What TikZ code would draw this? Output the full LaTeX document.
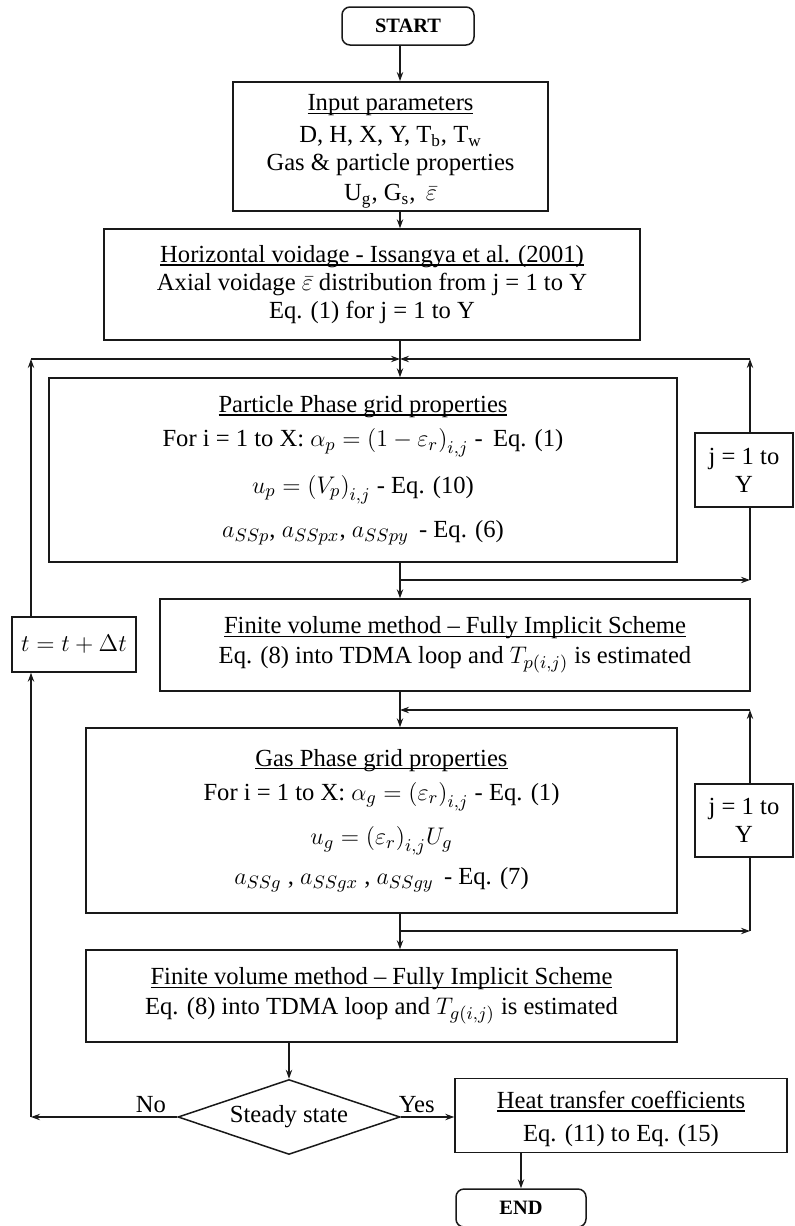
\documentclass[tikz,border=0pt]{standalone}
\usepackage{fontspec}
\setmainfont{Liberation Serif}
\usepackage{xcolor}
\usepackage{tikz}
\usetikzlibrary{shapes.geometric, arrows.meta, positioning, calc}
\definecolor{FlowInk}{RGB}{25, 25, 25}
\newcommand{\headline}[1]{\leavevmode\setbox0\hbox{#1}\rlap{\rule[-1.6pt]{\wd0}{0.65pt}}\box0}
\tikzset{
  procbox/.style={draw=FlowInk, line width=0.75pt, align=center, inner sep=3pt,
    font=\fontsize{12.3}{14}\selectfont},
  termbox/.style={draw=FlowInk, line width=0.75pt, rounded corners=4pt,
    minimum width=66pt, minimum height=19pt, font=\fontsize{10.2}{12}\selectfont\bfseries},
  decbox/.style={diamond, draw=FlowInk, line width=0.75pt, aspect=3, inner sep=1pt,
    minimum width=111pt, minimum height=37.5pt, font=\fontsize{12.3}{14}\selectfont},
  flow/.style={draw=FlowInk, line width=0.6pt, -{Stealth[length=4.5pt, width=3.2pt]}},
  link/.style={draw=FlowInk, line width=0.6pt},
  lbl/.style={font=\fontsize{12.3}{14}\selectfont, inner sep=2pt}
}

\begin{document}
\begin{tikzpicture}[x=0.5pt, y=-0.5pt]
    \useasboundingbox (0,0) rectangle (794,1226);

    \coordinate (spine) at (400,0);
    \coordinate (lcol) at (31,0);
    \coordinate (rcol) at (750,0);
    \coordinate (toprow) at (0,359);
    \coordinate (prow) at (0,580);
    \coordinate (grow) at (0,710);
    \coordinate (gout) at (0,931);

    \node[termbox] (start) at (408,26) {START};
    \node[procbox, inner sep=1.5pt, minimum width=157.5pt, minimum height=64.5pt] (input) at (390.5,146.5) {
      \rule{0pt}{13pt}\headline{Input parameters}\\[2pt]
      D, H, X, Y, T\textsubscript{b}, T\textsubscript{w}\\
      Gas \& particle properties\\[1pt]
      U\textsubscript{g}, G\textsubscript{s}, \,$\bar{\varepsilon}$
    };
    \node[procbox, minimum width=268pt, minimum height=55.5pt] (void) at (372,284.5) {
      \headline{Horizontal voidage - Issangya et al. (2001)}\\
      Axial voidage $\bar{\varepsilon}$ distribution from j = 1 to Y\\
      Eq. (1) for j = 1 to Y
    };
    \node[procbox, minimum width=314pt, minimum height=92pt] (part) at (363,470) {
      \headline{Particle Phase grid properties}\\[3pt]
      For i = 1 to X: $\alpha_p=\bigl(1-\varepsilon_r\bigr)_{i,j}$ -\, Eq. (1)\\[8pt]
      $u_p=\bigl(V_p\bigr)_{i,j}$ - Eq. (10)\\[8pt]
      $a_{SSp}$, $a_{SSpx}$, $a_{SSpy}$ \,- Eq. (6)
    };
    \node[procbox, minimum width=49pt, minimum height=37pt] (jp) at (744,470) {j = 1 to\\Y};
    \node[procbox, minimum width=295pt, minimum height=46pt] (fv1) at (455,645) {
      \headline{Finite volume method -- Fully Implicit Scheme}\\[1pt]
      Eq. (8) into TDMA loop and $T_{p\left(i,j\right)}$ is estimated
    };
    \node[procbox, minimum width=62pt, minimum height=27.5pt] (tbox) at (74,644.5) {$t=t+\Delta t$};
    \node[procbox, minimum width=295.5pt, minimum height=92.5pt] (gas) at (381.5,820.5) {
      \headline{Gas Phase grid properties}\\[3pt]
      For i = 1 to X: $\alpha_g=\bigl(\varepsilon_r\bigr)_{i,j}$ - Eq. (1)\\[7pt]
      $u_g=\bigl(\varepsilon_r\bigr)_{i,j}U_g$\\[6pt]
      $a_{SSg}$ , $a_{SSgx}$ , $a_{SSgy}$ \,- Eq. (7)
    };
    \node[procbox, minimum width=49pt, minimum height=36.5pt] (jg) at (744,820.5) {j = 1 to\\Y};
    \node[procbox, minimum width=295.5pt, minimum height=46pt] (fv2) at (381.5,996) {
      \headline{Finite volume method -- Fully Implicit Scheme}\\[1pt]
      Eq. (8) into TDMA loop and $T_{g\left(i,j\right)}$ is estimated
    };
    \node[decbox] (steady) at (289,1117) {Steady state};
    \node[procbox, minimum width=166pt, minimum height=36.5pt] (heat) at (621,1115.5) {
      \rule{0pt}{12pt}\headline{Heat transfer coefficients}\\[2.5pt]
      Eq. (11) to Eq. (15)
    };
    \node[termbox, minimum width=65pt] (end) at (521,1208) {END};

    % main line
    \draw[flow] (start.south -| spine) -- (input.north -| spine);
    \draw[flow] (input.south -| spine) -- (void.north -| spine);
    \draw[flow] (void.south -| spine) -- (part.north -| spine);
    \draw[flow] (part.south -| spine) -- (fv1.north -| spine);
    \draw[flow] (fv1.south -| spine) -- (gas.north -| spine);
    \draw[flow] (gas.south -| spine) -- (fv2.north -| spine);
    \draw[flow] (fv2.south -| steady) -- (steady.north);
    \draw[flow] (heat.south -| end) -- (end.north);

    % particle loop over j
    \draw[flow] (spine |- prow) -- (rcol |- prow);
    \draw[link] (jp.south -| rcol) -- (rcol |- prow);
    \draw[flow] (jp.north -| rcol) -- (rcol |- toprow);
    \draw[flow] (rcol |- toprow) -- (spine |- toprow);

    % gas loop over j
    \draw[flow] (spine |- gout) -- (rcol |- gout);
    \draw[link] (jg.south -| rcol) -- (rcol |- gout);
    \draw[flow] (jg.north -| rcol) -- (rcol |- grow);
    \draw[flow] (rcol |- grow) -- (spine |- grow);

    % time loop
    \draw[flow] (steady.west) -- node[lbl, above, pos=0.18] (nolbl) {No} (lcol |- steady.west);
    \draw[flow] (lcol |- steady.west) -- (tbox.south -| lcol);
    \draw[flow] (tbox.north -| lcol) -- (lcol |- toprow);
    \draw[flow] (lcol |- toprow) -- (spine |- toprow);
    \draw[flow] (steady.east) -- node[lbl, above, pos=0.3] (yeslbl) {Yes} (heat.west |- steady.east);
  \end{tikzpicture}
\end{document}
